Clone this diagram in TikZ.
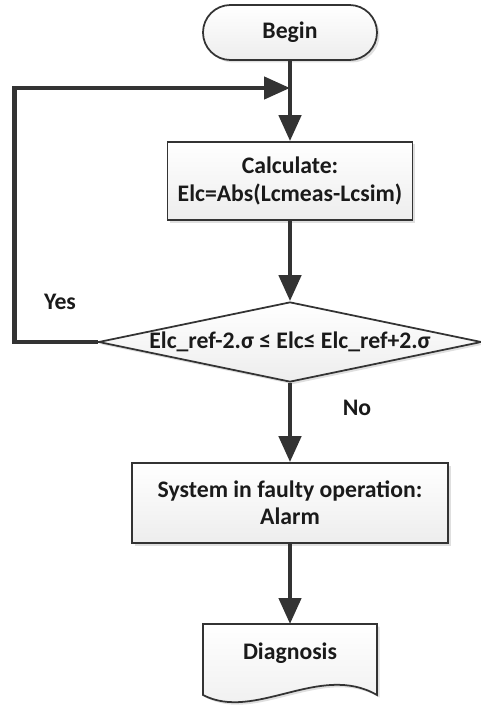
\documentclass[tikz,border=0pt]{standalone}
\usepackage{fontspec}
\setmainfont{Carlito}
\usepackage{tikz}
\usetikzlibrary{shapes.geometric, arrows.meta, positioning, shadows, calc}

\definecolor{linea}{HTML}{333333}
\definecolor{testo}{HTML}{1A1A1A}

\begin{document}
\begin{tikzpicture}[
    box/.style={rectangle,draw=linea,line width=1pt,top color=white,bottom color=gray!14,
        drop shadow={shadow xshift=0.05cm,shadow yshift=-0.05cm,fill=gray,opacity=0.25}},
    lbl/.style={font=\bfseries\fontsize{13.5}{15.5}\selectfont,text=testo,align=center},
    flow/.style={-{Triangle[length=0.52cm,width=0.44cm]},line width=2.6pt,draw=linea}
]
    \useasboundingbox (0,0) rectangle (9.62,-14.18);

    % Inizio
    \node[box,lbl,rounded corners=0.55cm,minimum width=3.48cm,minimum height=1.1cm] (begin) at (5.8,-0.65) {Begin};

    % Calcolo
    \node[box,lbl,minimum width=4.9cm,minimum height=1.56cm] (calc) at (5.8,-3.62) {Calculate:\\Elc=Abs(Lcmeas-Lcsim)};

    % Decisione
    \node[box,diamond,inner sep=0pt,minimum width=7.66cm,minimum height=1.6cm] (dec) at (5.8,-6.84) {};
    \node[lbl] at (dec.center) {Elc\_ref-2.σ ≤ Elc≤ Elc\_ref+2.σ};

    % Allarme
    \node[box,lbl,minimum width=6.32cm,minimum height=1.6cm] (sys) at (5.8,-10.06) {System in faulty operation:\\Alarm};

    % Documento finale
    \node[inner sep=0pt,outer sep=0pt,minimum width=3.48cm,minimum height=1.42cm] (diag) at (5.8,-13.19) {};
    \draw[box] (diag.south west) -- (diag.north west) -- (diag.north east) -- (diag.south east)
        .. controls +(-1.14,0.66) and +(1.04,-0.54) .. (diag.south west) -- cycle;
    \node[lbl] at ($(diag.center)+(0,0.13)$) {Diagnosis};

    % Frecce
    \coordinate (join) at (begin.south |- 0,-1.76);
    \draw[flow] (begin.south) -- (calc.north);
    \draw[flow] (calc.south) -- (dec.north);
    \draw[flow] (dec.west) -- ++(-1.66,0) |- (join);
    \draw[flow] (dec.south) -- (sys.north);
    \draw[flow] (sys.south) -- (diag.north);

    % Etichette
    \node[lbl] (yes) at (1.2,-6.04) {Yes};
    \node[lbl] (no) at (7.14,-8.16) {No};
\end{tikzpicture}
\end{document}
